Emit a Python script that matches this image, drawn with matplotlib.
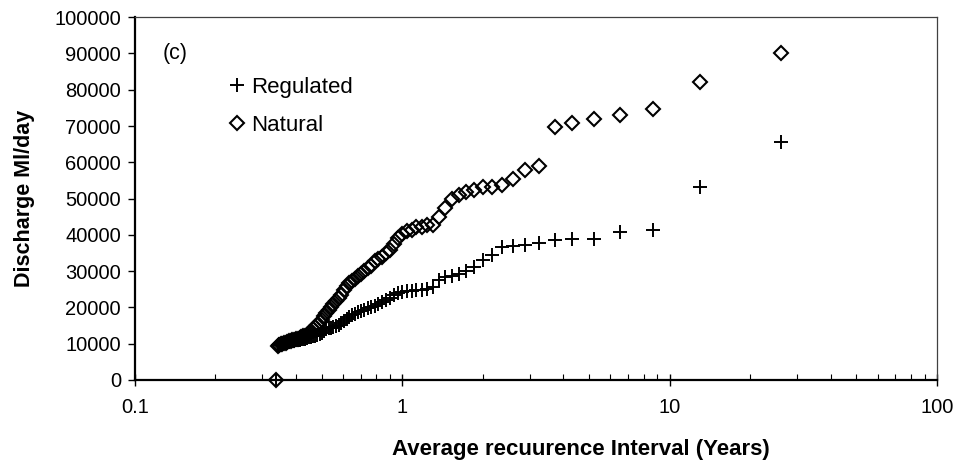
import matplotlib
matplotlib.use('Agg')
import matplotlib.pyplot as plt
from matplotlib.ticker import FixedLocator, LogLocator, NullFormatter

plt.rcParams['font.family'] = ['Liberation Sans', 'DejaVu Sans']

# average recurrence interval (years)
interval = [26.000, 13.000, 8.667, 6.500, 5.200, 4.333, 3.714, 3.250, 2.889, 2.600,
            2.364, 2.167, 2.000, 1.857, 1.733, 1.625, 1.529, 1.444, 1.368, 1.300,
            1.238, 1.182, 1.130, 1.083, 1.040, 1.000, 0.963, 0.929, 0.897, 0.867,
            0.839, 0.813, 0.788, 0.765, 0.743, 0.722, 0.703, 0.684, 0.667, 0.650,
            0.634, 0.619, 0.605, 0.591, 0.578, 0.565, 0.553, 0.542, 0.531, 0.520,
            0.510, 0.500, 0.491, 0.481, 0.473, 0.464, 0.456, 0.448, 0.441, 0.433,
            0.426, 0.419, 0.413, 0.406, 0.400, 0.394, 0.388, 0.382, 0.377, 0.371,
            0.366, 0.361, 0.356, 0.351, 0.347, 0.342, 0.338]

regulated = [65500, 53300, 41300, 40900, 38800, 38800, 38600, 37800, 37300, 37000,
             36700, 34400, 33000, 31200, 29900, 29300, 28700, 28300, 27500, 25500,
             25000, 24800, 24700, 24500, 24400, 24200, 24000, 23400, 22500, 22000,
             21500, 21000, 20500, 20200, 19800, 19400, 19000, 18600, 18300, 17900,
             17300, 16700, 16200, 15700, 15200, 14900, 14600, 14400, 14200, 14000,
             13500, 13000, 12700, 12400, 12200, 12000, 11800, 11700, 11500, 11400,
             11300, 11200, 11100, 11000, 10900, 10800, 10700, 10600, 10500, 10400,
             10300, 10200, 10100, 10000, 9900, 9700, 0]

natural = [90000, 82000, 74600, 72900, 71900, 70900, 69800, 58900, 57900, 55400,
           53700, 53300, 53300, 52300, 51900, 51000, 49800, 47300, 45000, 42700,
           42600, 42200, 42100, 41300, 41000, 40200, 39100, 37400, 35800, 35000,
           34000, 33400, 32800, 31500, 30800, 30000, 29300, 28700, 27900, 27300,
           26600, 25800, 24900, 23400, 22500, 21800, 20800, 20000, 19300, 18500,
           17500, 16600, 15900, 15200, 14600, 14000, 13400, 12900, 12500, 12200,
           12000, 11700, 11500, 11300, 11200, 11000, 10900, 10700, 10600, 10400,
           10300, 10200, 10000, 9800, 9600, 9300, 0]

yticks = [0, 10000, 20000, 30000, 40000, 50000, 60000, 70000, 80000, 90000, 100000]
xticks = [0.1, 1, 10, 100]
xticklabels = ['0.1', '1', '10', '100']

fig = plt.figure(figsize=(9.57, 4.65), dpi=100)
ax = fig.add_axes([0.141, 0.183, 0.838, 0.780])

ax.plot(interval, regulated, linestyle='none', marker='+', markersize=9.5,
        markeredgewidth=1.4, color='black', label='Regulated', clip_on=False)
ax.plot(interval, natural, linestyle='none', marker='D', markersize=7,
        markeredgewidth=1.5, markerfacecolor='none', markeredgecolor='black',
        label='Natural', clip_on=False)

ax.set_xscale('log')
ax.set_xlim(0.1, 100)
ax.set_ylim(0, 100000)
ax.xaxis.set_major_locator(FixedLocator(xticks))
ax.set_xticklabels(xticklabels)
ax.xaxis.set_minor_locator(LogLocator(base=10, subs=[2, 3, 4, 5, 6, 7, 8, 9]))
ax.xaxis.set_minor_formatter(NullFormatter())
ax.set_yticks(yticks)
ax.set_yticklabels([str(v) for v in yticks])

ax.tick_params(axis='x', which='major', direction='inout', length=8, width=1, labelsize=14.5, pad=9)
ax.tick_params(axis='x', which='minor', direction='in', length=4, width=0.8)
ax.tick_params(axis='y', which='major', direction='out', length=5, width=1, labelsize=14.5, pad=5)

for s in ['left', 'bottom']:
    ax.spines[s].set_linewidth(1.6)
    ax.spines[s].set_color('black')
for s in ['top', 'right']:
    ax.spines[s].set_linewidth(0.9)
    ax.spines[s].set_color('#404040')

ax.set_xlabel('Average recuurence Interval (Years)', fontsize=16, fontweight='bold')
ax.xaxis.set_label_coords(0.556, -0.163)
ax.set_ylabel('Discharge Ml/day', fontsize=15.5, fontweight='bold')
ax.yaxis.set_label_coords(-0.125, 0.5)

ax.text(0.034, 0.886, '(c)', transform=ax.transAxes, fontsize=15.5)
ax.legend(loc='upper left', bbox_to_anchor=(0.106, 0.86), frameon=False, fontsize=16,
          handlelength=0.7, handletextpad=0.3, labelspacing=0.75, borderaxespad=0)

fig.savefig('out.png', dpi=100)
